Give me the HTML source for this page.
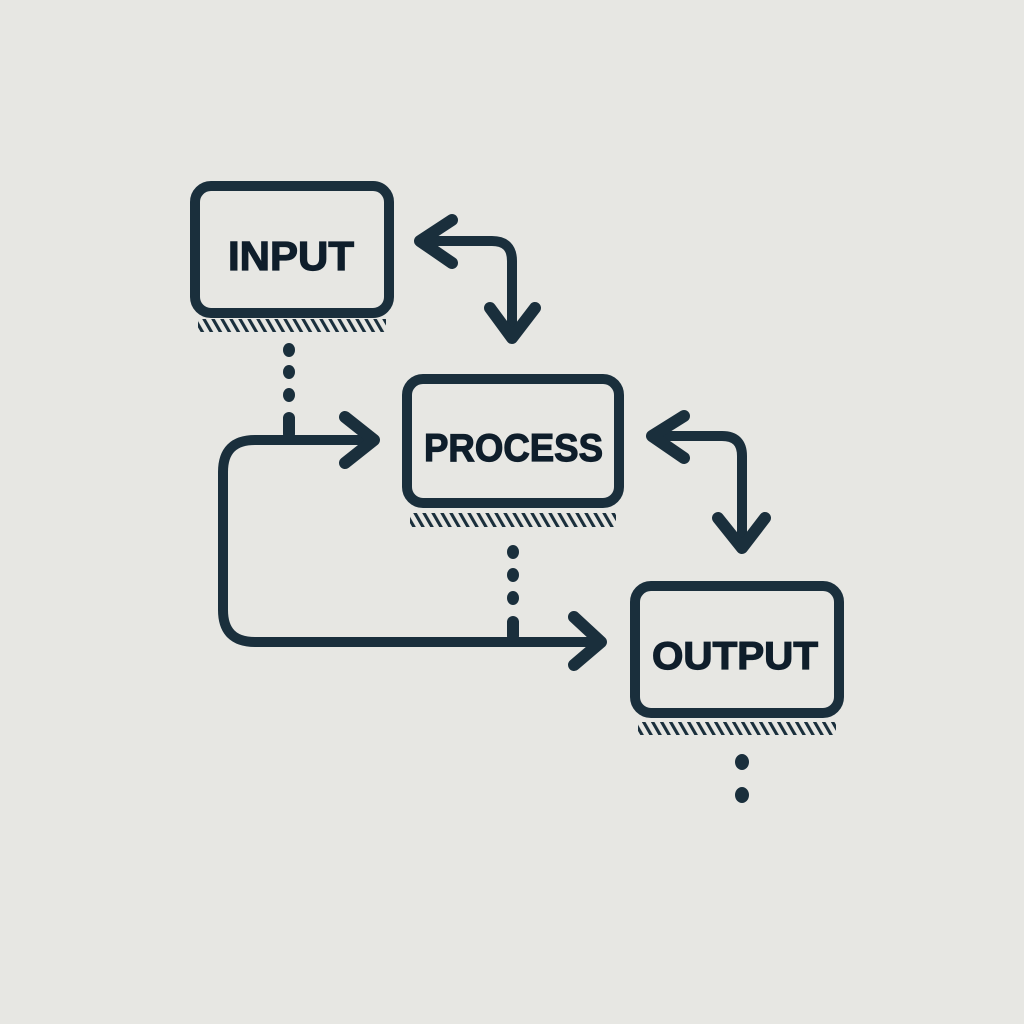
<!DOCTYPE html>
<html><head><meta charset="utf-8"><style>
html,body{margin:0;padding:0;background:#e7e7e3;}
svg{display:block}
text{font-family:"Liberation Sans",sans-serif;font-weight:bold;fill:#0f1e2b;stroke:#0f1e2b;stroke-width:1.2;}
</style></head><body>
<svg width="1024" height="1024" viewBox="0 0 1024 1024" xmlns="http://www.w3.org/2000/svg">
<defs>
<pattern id="h" width="9" height="14" patternUnits="userSpaceOnUse" patternTransform="skewX(30)">
<rect x="0" y="0" width="3.6" height="14" fill="#1a2f3c"/>
</pattern>
</defs>
<rect width="1024" height="1024" fill="#e7e7e3"/>
<g fill="none" stroke="#1a2f3c" stroke-width="10" stroke-linecap="round" stroke-linejoin="round">
<rect x="195" y="186" width="194" height="127" rx="16"/>
<rect x="407" y="379" width="212" height="124" rx="16"/>
<rect x="635" y="586" width="204" height="127" rx="16"/>
<path d="M420 241 H492 Q512 241 512 261 V338"/>
<path d="M652 436 H722 Q742 436 742 456 V548"/>
<path d="M374 440 H255 Q223 440 223 472 V610 Q223 642 255 642 H600"/>
</g>
<g fill="none" stroke="#1a2f3c" stroke-width="12" stroke-linecap="round" stroke-linejoin="round">
<path d="M452 220 L420 241 L452 263"/>
<path d="M490 308 L512 338 L535 308"/>
<path d="M684 416 L652 436 L684 458"/>
<path d="M718 518 L742 548 L765 518"/>
<path d="M345 417 L374 440 L345 463"/>
<path d="M574 617 L601 642 L574 665"/>
</g>
<g fill="#1a2f3c">
<rect x="198" y="319" width="188" height="13" fill="url(#h)"/>
<rect x="410" y="513" width="206" height="14" fill="url(#h)"/>
<rect x="638" y="722" width="198" height="13" fill="url(#h)"/>
<ellipse cx="289" cy="350" rx="6" ry="7"/>
<ellipse cx="289" cy="372" rx="6" ry="7"/>
<ellipse cx="289" cy="395" rx="6" ry="7"/>
<rect x="283" y="412" width="12" height="28" rx="6"/>
<ellipse cx="513" cy="552" rx="6" ry="7"/>
<ellipse cx="513" cy="575" rx="6" ry="7"/>
<ellipse cx="513" cy="598" rx="6" ry="7"/>
<rect x="507" y="616" width="12" height="26" rx="6"/>
<ellipse cx="742" cy="762" rx="7" ry="8"/>
<ellipse cx="742" cy="795" rx="7" ry="8"/>
</g>
<text x="228" y="270" font-size="41" textLength="126" lengthAdjust="spacingAndGlyphs">INPUT</text>
<text x="424" y="461" font-size="39" textLength="179" lengthAdjust="spacingAndGlyphs">PROCESS</text>
<text x="652" y="669" font-size="39" textLength="166" lengthAdjust="spacingAndGlyphs">OUTPUT</text>
</svg>
</body></html>
